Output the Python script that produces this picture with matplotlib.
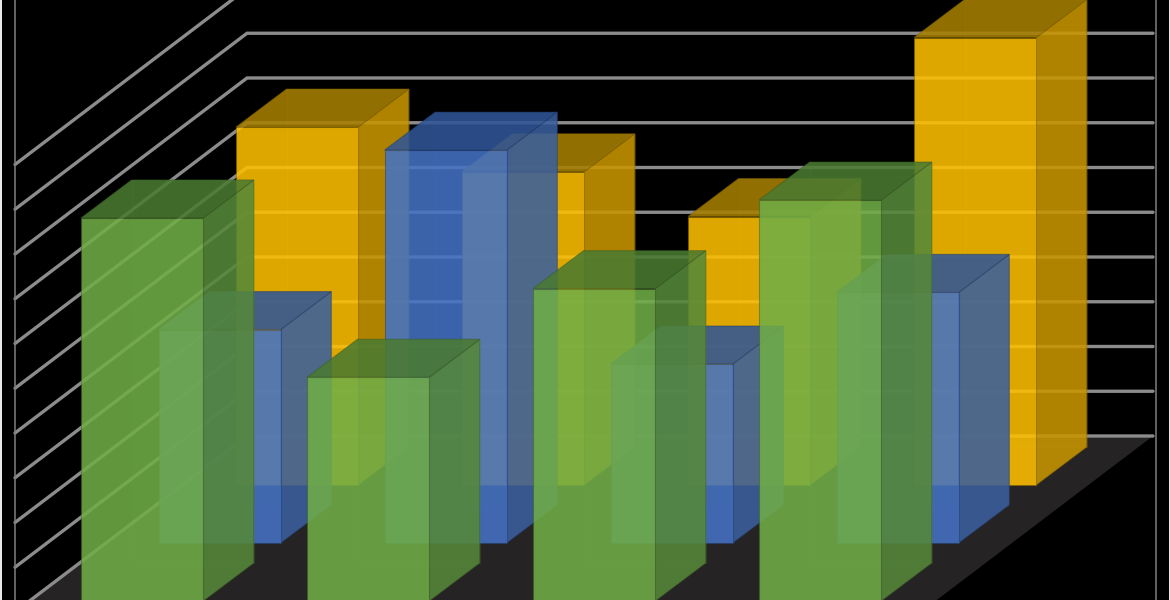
"""
Oblique 3D column chart on a black background, drawn on a plain 2D axes.
"""
import matplotlib
matplotlib.use("Agg")
import matplotlib.pyplot as plt
from matplotlib.colors import to_rgba

# bar heights per series, front row is green
yellow_vals = [8.0, 7.0, 6.0, 10.0]
blue_vals = [4.77, 8.78, 4.0, 5.6]
green_vals = [8.56, 5.0, 6.98, 8.96]
grid_vals = list(range(0, 11))

# screen geometry, in pixels
UNIT = 44.75
COL_PITCH = 226
BAR_W = 122.3
BAR_DX, BAR_DY = 50.5, -38
ROW_DX, ROW_DY = -77.5, 58
BACK_X, BACK_Y = 236, 485  # front-left foot of first yellow bar

WALL_L, WALL_R = 247, 1153
FLOOR_Y = 436
SIDE_DX, SIDE_DY = -232, 176


def project(col, row, val, width=0.0, depth=0.0):
    x = BACK_X + col * COL_PITCH + row * ROW_DX + width * BAR_W + depth * BAR_DX
    y = BACK_Y + row * ROW_DY - val * UNIT + depth * BAR_DY
    return x, y


def face(ax, pts, color, alpha, edge, edge_alpha, z):
    xs, ys = zip(*pts)
    ax.fill(xs, ys, facecolor=to_rgba(color, alpha), edgecolor=to_rgba(edge, edge_alpha),
            linewidth=0.8, zorder=z)


def draw_bar(ax, col, row, val, colors, edge, z):
    front, side, top = colors

    def p(w, d, h):
        return project(col, row, h, w, d)

    # far faces first, they only show up faintly through the near ones
    face(ax, [p(0, 1, 0), p(1, 1, 0), p(1, 1, val), p(0, 1, val)], front, 0.05, front, 0.12, z)
    face(ax, [p(0, 0, 0), p(0, 1, 0), p(0, 1, val), p(0, 0, val)], front, 0.03, front, 0.0, z)
    face(ax, [p(0, 0, 0), p(1, 0, 0), p(1, 1, 0), p(0, 1, 0)], front, 0.03, front, 0.0, z)
    # near faces
    face(ax, [p(1, 0, 0), p(1, 1, 0), p(1, 1, val), p(1, 0, val)], side, 0.87, edge, 0.45, z + 0.1)
    face(ax, [p(0, 0, val), p(1, 0, val), p(1, 1, val), p(0, 1, val)], top, 0.87, edge, 0.45, z + 0.1)
    face(ax, [p(0, 0, 0), p(1, 0, 0), p(1, 0, val), p(0, 0, val)], front, 0.87, edge, 0.45, z + 0.2)


fig = plt.figure(figsize=(11.7, 6), dpi=100, facecolor="#e8e8e8")
ax = fig.add_axes([1.5 / 1170, 0, 1167.5 / 1170, 1])
ax.set_facecolor("black")
ax.set_xlim(1.5, 1169)
ax.set_ylim(600, 0)
ax.set_xticks([])
ax.set_yticks([])
for s in ax.spines.values():
    s.set_visible(False)

# floor
ax.fill([WALL_L, WALL_R, WALL_R + SIDE_DX, WALL_L + SIDE_DX],
        [FLOOR_Y, FLOOR_Y, FLOOR_Y + SIDE_DY, FLOOR_Y + SIDE_DY],
        color="#262324", linewidth=0, zorder=1)

# walls
for v in grid_vals:
    y = FLOOR_Y - v * UNIT
    ax.plot([WALL_L + SIDE_DX, WALL_L, WALL_R], [y + SIDE_DY, y, y], color="#8c8c8c",
            linewidth=2.4, solid_capstyle="round", solid_joinstyle="miter", zorder=2)
ax.axvline(14.5, color="#7f7f7f", linewidth=1.1, zorder=2)
ax.axvline(1155.5, color="#7f7f7f", linewidth=1.1, zorder=2)

# back to front
series = [
    (yellow_vals, ("#ffc000", "#c89600", "#a67f00"), "#7f6000"),
    (blue_vals, ("#4472c4", "#3a5f9e", "#2f5597"), "#1f3864"),
    (green_vals, ("#70ad47", "#55883a", "#4a7a30"), "#385723"),
]
for row, (vals, colors, edge) in enumerate(series):
    for col, val in enumerate(vals):
        draw_bar(ax, col, row, val, colors, edge, 3 + row + col * 0.01)

fig.savefig("out.png", dpi=100, facecolor=fig.get_facecolor())
